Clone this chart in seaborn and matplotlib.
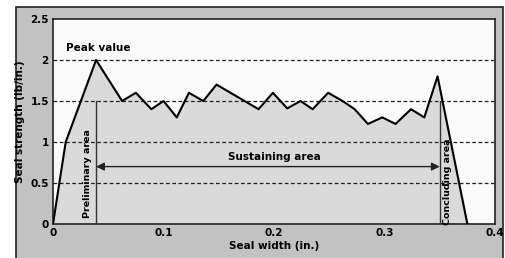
import seaborn as sns
import pandas as pd
import matplotlib.pyplot as plt
from matplotlib.patches import Rectangle

# seal strength curve
seal_width = [0.0, 0.0115, 0.039, 0.0625, 0.075, 0.089, 0.1, 0.112, 0.123, 0.136,
              0.148, 0.186, 0.199, 0.212, 0.224, 0.235, 0.249, 0.262, 0.273, 0.285,
              0.298, 0.31, 0.324, 0.336, 0.348, 0.375]
seal_strength = [0.0, 1.0, 2.0, 1.5, 1.6, 1.4, 1.5, 1.3, 1.6, 1.5,
                 1.7, 1.4, 1.6, 1.41, 1.5, 1.4, 1.6, 1.5, 1.4, 1.22,
                 1.3, 1.22, 1.4, 1.3, 1.8, 0.0]
x_ticks = [0, 0.1, 0.2, 0.3, 0.4]
y_ticks = [0, 0.5, 1, 1.5, 2, 2.5]
area_bounds = [0.039, 0.35]

df = pd.DataFrame({"width": seal_width, "strength": seal_strength})

sns.set_theme(style="white", rc={"text.color": "black", "axes.labelcolor": "black",
                                 "xtick.color": "black", "ytick.color": "black"})
plt.rcParams['font.family'] = ['Liberation Sans Narrow', 'DejaVu Sans']
plt.rcParams['font.weight'] = 'bold'

fig = plt.figure(figsize=(5.06, 2.58), dpi=100)
fig.patch.set_facecolor("white")
fig.patches.append(Rectangle((16 / 506, -0.01), 487 / 506, 1 - 7 / 258 + 0.01,
                             transform=fig.transFigure, facecolor="#c2c2c2",
                             edgecolor="#222222", linewidth=1.2, zorder=-10))
ax = fig.add_axes([53 / 506, 34 / 258, 442 / 506, 205 / 258])
ax.set_facecolor("#fafafa")

ax.fill_between(df["width"], df["strength"], color="#dadada", zorder=1)
for yv in y_ticks[1:-1]:
    ax.axhline(yv, color="#222222", linestyle=(0, (3, 2)), linewidth=0.9, zorder=2)
sns.lineplot(data=df, x="width", y="strength", ax=ax, color="black",
             linewidth=1.5, zorder=4)

# area boundaries and arrow
for xv in area_bounds:
    ax.plot([xv, xv], [0, 1.5], color="#333333", linewidth=1.0, zorder=3)
ax.annotate("", xy=(area_bounds[0], 0.7), xytext=(area_bounds[1], 0.7),
            arrowprops=dict(arrowstyle="<|-|>", color="#222222", lw=1.0,
                            mutation_scale=12, shrinkA=0, shrinkB=0), zorder=3)

ax.text(0.2, 0.82, "Sustaining area", ha="center", va="center", fontsize=7.5, fontweight="bold")
ax.text(0.041, 2.15, "Peak value", ha="center", va="center", fontsize=7.5, fontweight="bold")
ax.text(0.031, 0.62, "Preliminary area", rotation=90, ha="center", va="center",
        fontsize=6.8, fontweight="bold")
ax.text(0.357, 0.51, "Concluding area", rotation=90, ha="center", va="center",
        fontsize=6.8, fontweight="bold")

ax.set_xlim(0, 0.4)
ax.set_ylim(0, 2.5)
ax.set_xticks(x_ticks)
ax.set_xticklabels(["0", "0.1", "0.2", "0.3", "0.4"])
ax.set_yticks(y_ticks)
ax.set_yticklabels(["0", "0.5", "1", "1.5", "2", "2.5"])
ax.tick_params(axis="x", direction="in", length=5, width=1, color="#333333",
               labelsize=7.5, pad=3)
ax.tick_params(axis="y", length=0, labelsize=7.5, pad=3)
for lab in ax.get_xticklabels() + ax.get_yticklabels():
    lab.set_fontweight("bold")
for sp in ax.spines.values():
    sp.set_color("#222222")
    sp.set_linewidth(1.2)
ax.set_xlabel("Seal width (in.)", fontsize=7.5, fontweight="bold", labelpad=2)
ax.set_ylabel("Seal strength (lb/in.)", fontsize=7.5, fontweight="bold", labelpad=4)

fig.savefig("out.png", dpi=100)
